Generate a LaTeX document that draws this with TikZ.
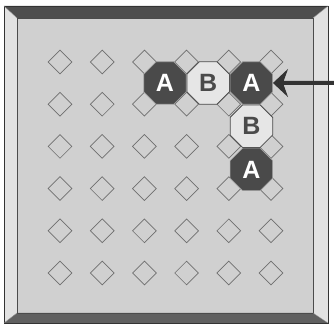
\documentclass[tikz,border=0pt]{standalone}
\usepackage{fontspec}
\setmainfont{Liberation Sans}
\usepackage{xcolor}
\usetikzlibrary{arrows.meta,positioning,shapes.geometric}
\definecolor{bPanel}{HTML}{D0D0D0}
\definecolor{bBevelDark}{HTML}{4E4E4E}
\definecolor{bBevelLight}{HTML}{E2E2E2}
\definecolor{bSpot}{HTML}{6E6E6E}
\definecolor{bStoneA}{HTML}{4A4A4A}
\definecolor{bStoneB}{HTML}{E6E6E6}
\definecolor{bArrow}{HTML}{333333}

\begin{document}
\begin{tikzpicture}[
        x=1pt, y=1pt,
        node distance=0pt,
        spot/.style={diamond, draw=bSpot, line width=0.7pt, inner sep=0pt, minimum size=24pt},
        stone/.style={regular polygon, regular polygon sides=8, minimum size=46pt, inner sep=0pt,
                      font=\fontsize{25}{25}\selectfont\bfseries},
        stonea/.style={stone, fill=bStoneA, draw=gray!70, line width=0.6pt, text=white},
        stoneb/.style={stone, fill=bStoneB, draw=bStoneA, line width=0.8pt, text=bStoneA},
        arr/.style={-{Stealth[length=15pt, width=28pt, inset=5pt]}, line width=4pt, bArrow},
    ]
        \useasboundingbox (0,0) rectangle (334,326);
        \fill[bPanel] (17,13) rectangle (313,308);
        \fill[bBevelDark] (4,320) -- (328,320) -- (313,308) -- (17,308) -- cycle;
        \fill[bBevelDark!90] (4,3) -- (328,3) -- (313,13) -- (17,13) -- cycle;
        \fill[bBevelLight] (4,3) -- (4,320) -- (17,308) -- (17,13) -- cycle;
        \fill[bBevelLight] (328,3) -- (328,320) -- (313,308) -- (313,13) -- cycle;
        \draw[black!80, line width=0.8pt] (4,3) rectangle (328,320);
        \draw[black!70, line width=0.6pt] (17,13) rectangle (313,308);
        \draw[black!50, line width=0.4pt] (4,320) -- (17,308) (328,320) -- (313,308)
            (4,3) -- (17,13) (328,3) -- (313,13);

        \foreach \i in {0,...,5}
            \foreach \j in {0,...,5}
                \node[spot] (d-\i-\j) at (60+42.2*\i, 264-42.2*\j) {};

        \node[stonea] (a1) at (165,243) {A};
        \node[stoneb, right=of a1] (b1) {B};
        \node[stonea, right=of b1] (a2) {A};
        \node[stoneb, below=of a2] (b2) {B};
        \node[stonea, below=of b2] (a3) {A};

        \coordinate (src) at (334,243);
        \draw[arr] (src) -- (a2.east);
    \end{tikzpicture}
\end{document}
